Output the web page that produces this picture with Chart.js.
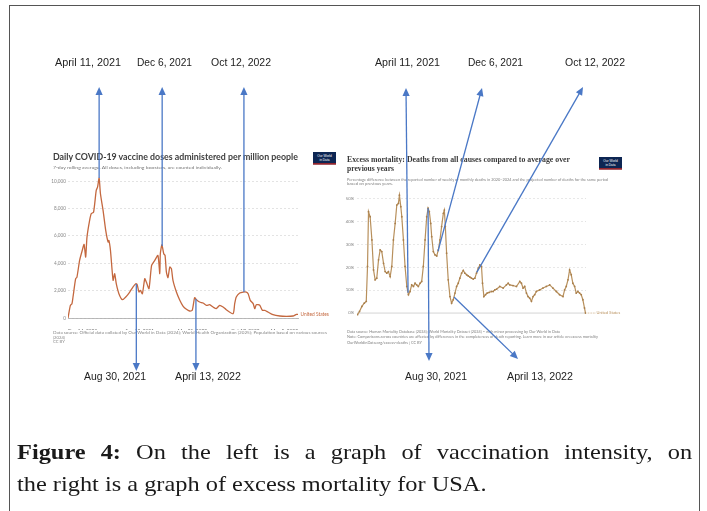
<!DOCTYPE html>
<html><head><meta charset="utf-8">
<script src="https://cdn.jsdelivr.net/npm/chart.js@4.4.1/dist/chart.umd.min.js"></script>
<style>
html,body{margin:0;padding:0;background:#fff;}
body{width:707px;height:511px;position:relative;overflow:hidden;font-family:"Liberation Sans",Arial,sans-serif;}
#frame{position:absolute;left:9px;top:5px;width:691px;height:540px;border:1px solid #555;box-sizing:border-box;}
canvas{position:absolute;}
#cL{left:40px;top:171px;}
#cR{left:338px;top:186px;}
#ov{position:absolute;left:0;top:0;pointer-events:none;}
.cap{position:absolute;left:17px;font-family:"Liberation Serif","Times New Roman",serif;font-size:21px;line-height:24px;color:#1a1a1a;white-space:nowrap;transform-origin:0 0;transform:scaleX(1.16);}
</style></head>
<body>
<div id="frame"></div>
<canvas id="cL" width="292" height="159"></canvas>
<canvas id="cR" width="285" height="141"></canvas>
<svg id="ov" width="707" height="511" xmlns="http://www.w3.org/2000/svg">
  <g font-family="Liberation Sans, Arial, sans-serif" font-size="10.5" fill="#222">
    <text x="55" y="66" textLength="66" lengthAdjust="spacingAndGlyphs">April 11, 2021</text>
    <text x="137" y="66" textLength="55" lengthAdjust="spacingAndGlyphs">Dec 6, 2021</text>
    <text x="211" y="66" textLength="60" lengthAdjust="spacingAndGlyphs">Oct 12, 2022</text>
    <text x="375" y="66" textLength="65" lengthAdjust="spacingAndGlyphs">April 11, 2021</text>
    <text x="468" y="66" textLength="55" lengthAdjust="spacingAndGlyphs">Dec 6, 2021</text>
    <text x="565" y="66" textLength="60" lengthAdjust="spacingAndGlyphs">Oct 12, 2022</text>
    <text x="84" y="380" textLength="62" lengthAdjust="spacingAndGlyphs">Aug 30, 2021</text>
    <text x="175" y="380" textLength="66" lengthAdjust="spacingAndGlyphs">April 13, 2022</text>
    <text x="405" y="380" textLength="62" lengthAdjust="spacingAndGlyphs">Aug 30, 2021</text>
    <text x="507" y="380" textLength="66" lengthAdjust="spacingAndGlyphs">April 13, 2022</text>
  </g>
  <text x="53" y="160" font-family="Lato, Liberation Sans, sans-serif" font-weight="bold" font-size="9.6" fill="#3d3d3d" textLength="245" lengthAdjust="spacingAndGlyphs">Daily COVID-19 vaccine doses administered per million people</text>
  <text x="53" y="168.5" font-family="Lato, Liberation Sans, sans-serif" font-size="4.6" fill="#777" textLength="169" lengthAdjust="spacingAndGlyphs">7-day rolling average. All doses, including boosters, are counted individually.</text>
  <g font-family="Lato, Liberation Sans, sans-serif" font-size="4.2" fill="#888">
    <text x="53" y="334" textLength="274" lengthAdjust="spacingAndGlyphs">Data source: Official data collated by Our World in Data (2024); World Health Organization (2025); Population based on various sources</text>
    <text x="53" y="338.6">(2024)</text>
    <text x="53" y="343.2">CC BY</text>
  </g>
  <g transform="translate(313,152)">
    <rect width="23" height="12.5" fill="#0d2653"/>
    <rect y="11.3" width="23" height="1.2" fill="#ce261e"/>
    <text x="11.5" y="5" font-size="3.2" fill="#fff" text-anchor="middle" font-family="Liberation Sans, sans-serif">Our World</text>
    <text x="11.5" y="8.8" font-size="3.2" fill="#fff" text-anchor="middle" font-family="Liberation Sans, sans-serif">in Data</text>
  </g>
  <g font-family="Liberation Serif, DejaVu Serif, serif" font-weight="bold" font-size="9" fill="#3a3a3a">
    <text x="347" y="162" textLength="223" lengthAdjust="spacingAndGlyphs">Excess mortality: Deaths from all causes compared to average over</text>
    <text x="347" y="171" textLength="47" lengthAdjust="spacingAndGlyphs">previous years</text>
  </g>
  <g font-family="Lato, Liberation Sans, sans-serif" font-size="3.9" fill="#808080">
    <text x="347" y="180.5" textLength="261" lengthAdjust="spacingAndGlyphs">Percentage difference between the reported number of weekly or monthly deaths in 2020–2024 and the projected number of deaths for the same period</text>
    <text x="347" y="185" textLength="46" lengthAdjust="spacingAndGlyphs">based on previous years.</text>
    <text x="347" y="333" textLength="213" lengthAdjust="spacingAndGlyphs">Data source: Human Mortality Database (2024); World Mortality Dataset (2024) – with minor processing by Our World in Data</text>
    <text x="347" y="338" textLength="251" lengthAdjust="spacingAndGlyphs">Note: Comparisons across countries are affected by differences in the completeness of death reporting. Learn more in our article on excess mortality</text>
    <text x="347" y="343.5" textLength="75" lengthAdjust="spacingAndGlyphs">OurWorldinData.org/excess-deaths | CC BY</text>
  </g>
  <g transform="translate(599,157)">
    <rect width="23" height="12.5" fill="#0d2653"/>
    <rect y="11.3" width="23" height="1.2" fill="#ce261e"/>
    <text x="11.5" y="5" font-size="3.2" fill="#fff" text-anchor="middle" font-family="Liberation Sans, sans-serif">Our World</text>
    <text x="11.5" y="8.8" font-size="3.2" fill="#fff" text-anchor="middle" font-family="Liberation Sans, sans-serif">in Data</text>
  </g>
  <g id="arrows"></g>
</svg>
<div class="cap" style="top:440px;width:582px;text-align:justify;text-align-last:justify;white-space:normal;"><b>Figure 4:</b> On the left is a graph of vaccination intensity, on</div>
<div class="cap" style="top:472px;">the right is a graph of excess mortality for USA.</div>

<script>
// ---------- Left chart: daily vaccine doses per million (USA) ----------
// x = days since Dec 14, 2020
const vaxDays = [0,9,15,19,29,34,44,54,61,67,72,82,88,97,107,112,118,123,133,143,152,155,161,171,177,183,193,206,219,234,246,257,262,269,274,282,291,297,307,317,329,341,348,350,356,363,368,373,379,386,392,398,411,423,436,449,461,471,480,487,499,512,525,537,550,562,575,588,600,626,632,638,651,664,676,683,691,702,708,714,727,737,746,758,777,803,828,853,866,872];
const vaxValues = [0,925,1046,1533,2871,2993,4209,4939,5377,4452,5912,7129,7615,7737,9318,9562,10219,9075,7859,6399,5547,5669,4939,2749,3236,2506,1776,1338,1533,1898,2263,2506,2457,1898,2019,1776,2871,2628,2141,3844,4209,4574,3236,4696,5353,4696,4574,3358,2944,3722,3601,2749,1898,1338,876,633,511,560,1484,1338,1168,1095,925,973,803,681,925,803,608,316,1046,1533,1825,1898,1898,1776,1290,1046,681,973,925,560,560,438,243,146,122,146,268,268];
const vaxTickDays = [0,272,472,672,872];
const vaxTickLabels = ['Dec 14, 2020','Sep 12, 2021','Mar 31, 2022','Oct 17, 2022','May 5, 2023'];
const vaxYTicks = [0,2000,4000,6000,8000,10000];
const vaxSeriesName = 'United States';

// ---------- Right chart: excess mortality P-score (USA) ----------
// x = days since Jan 1, 2020, y = % above expected
const emDays = [62,78,97,116,132,142,150,163,177,190,203,216,230,243,256,270,283,296,309,323,336,349,363,376,389,397,408,416,429,442,456,469,482,495,509,522,535,548,562,575,588,602,615,626,636,647,655,668,681,695,708,721,734,748,756,764,774,787,801,814,827,841,854,867,880,894,907,920,934,947,960,973,987,1000,1013,1027,1040,1053,1061,1072,1085,1098,1114,1133,1146,1159,1173,1199,1226,1252,1266,1279,1305,1332,1359,1372,1385,1398,1412,1425,1438,1452,1465,1478,1491,1518,1544,1571,1598,1624,1651,1677,1704,1717,1730,1744,1757,1770,1783,1797,1810,1823,1837,1850,1863,1876,1884];
const emValues = [-0.7,0.7,2.9,4.3,5.1,20.3,44.2,42.0,31.9,18.8,14.5,15.2,23.2,27.5,26.8,21.7,18.1,17.4,18.1,15.9,20.3,31.9,39.1,47.1,47.8,51.4,46.4,42.0,31.9,20.3,11.6,8.0,9.4,12.3,11.6,13.0,12.3,11.6,13.0,13.8,20.3,31.9,42.0,45.7,44.2,39.1,33.3,26.8,25.4,24.9,27.5,31.9,37.7,43.5,44.9,37.7,26.1,14.5,7.2,4.3,5.8,8.7,11.6,13.0,15.2,17.4,18.6,17.4,16.7,16.2,15.7,15.2,14.8,15.2,17.4,19.6,21.0,20.3,13.0,7.2,8.0,8.7,9.0,9.4,9.4,10.1,10.4,11.6,10.9,12.3,13.0,12.3,12.0,11.6,13.8,13.0,10.9,11.6,8.7,7.2,6.5,5.1,7.2,8.0,9.4,10.1,10.9,11.6,12.3,10.9,9.4,8.0,7.2,10.1,11.6,14.5,18.8,16.7,13.0,11.6,8.7,9.4,8.7,8.0,5.8,2.2,0];
const emTickDays = [58,535,986,1425,1888];
const emTickLabels = ['Feb 28, 2020','Jun 19, 2021','Sep 13, 2022','Nov 26, 2023','Mar 3, 2025'];
const emYTicks = [0,10,20,30,40,50];
const emSeriesName = 'United States';

// ---------- Annotations (dates) ----------
const vaxMarks = [
  {day:118, dir:'up'},   // April 11, 2021
  {day:357, dir:'up'},   // Dec 6, 2021
  {day:667, dir:'up'},   // Oct 12, 2022
  {day:259, dir:'down'}, // Aug 30, 2021
  {day:485, dir:'down'}  // April 13, 2022
];
const emMarks = [
  {day:466, tip:[406,88]},   // April 11, 2021
  {day:705, tip:[482,88]},   // Dec 6, 2021
  {day:1015, tip:[583,87]},  // Oct 12, 2022
  {day:626, tip:[429,361]},  // Aug 30, 2021
  {day:833, tip:[518,359]}   // April 13, 2022
];

const endLabel = {
  id:'endLabel',
  afterDatasetsDraw(chart, args, o){
    const meta = chart.getDatasetMeta(0);
    const pt = meta.data[meta.data.length-1];
    const ctx = chart.ctx;
    ctx.save();
    if (o.dots){
      ctx.setLineDash([0.8,0.8]); ctx.strokeStyle=o.color; ctx.lineWidth=0.7;
      ctx.beginPath(); ctx.moveTo(pt.x+1,pt.y); ctx.lineTo(pt.x+o.gap-1,pt.y); ctx.stroke();
    }
    ctx.font = o.font; ctx.fillStyle = o.color; ctx.textBaseline='middle';
    ctx.fillText(o.text, pt.x+o.gap, pt.y);
    ctx.restore();
  }
};
const zeroLine = {
  id:'zeroLine',
  beforeDatasetsDraw(chart, args, o){
    const y = chart.scales.y.getPixelForValue(0), a = chart.chartArea, ctx = chart.ctx;
    ctx.save(); ctx.strokeStyle=o.color; ctx.lineWidth=0.8;
    ctx.beginPath(); ctx.moveTo(a.left,y); ctx.lineTo(a.right,y); ctx.stroke(); ctx.restore();
  }
};

const chartL = new Chart(document.getElementById('cL'), {
  type:'line',
  data:{datasets:[{data:vaxDays.map((d,i)=>({x:d,y:vaxValues[i]})), borderColor:'#c4683f', borderWidth:1.3, pointRadius:0, tension:0.2}]},
  options:{
    responsive:false, animation:false,
    layout:{padding:{top:6,right:34,left:0,bottom:0}},
    plugins:{legend:{display:false},tooltip:{enabled:false},
      endLabel:{text:vaxSeriesName,color:'#c4683f',font:'4.8px Lato, Liberation Sans, sans-serif',gap:2.5,dots:false}},
    scales:{
      x:{type:'linear',min:0,max:872,
        afterBuildTicks:s=>{s.ticks=vaxTickDays.map(v=>({value:v}));},
        afterFit:s=>{s.height=12;},
        ticks:{callback:v=>vaxTickLabels[vaxTickDays.indexOf(v)],font:{size:4.9,family:'Lato'},color:'#6f6f6f',padding:2.5,align:'inner',maxRotation:0,autoSkip:false},
        grid:{display:false},
        border:{display:true,color:'#aaa',width:0.8}},
      y:{min:0,max:10300,
        afterBuildTicks:s=>{s.ticks=vaxYTicks.map(v=>({value:v}));},
        afterFit:s=>{s.width=28;},
        ticks:{font:{size:4.7,family:'Lato'},color:'#888',padding:2,callback:v=>v.toLocaleString('en-US')},
        grid:{color:'#dcdcdc',lineWidth:0.8,drawTicks:false},
        border:{display:false,dash:[2,2]}}
    }
  },
  plugins:[endLabel]
});

const chartR = new Chart(document.getElementById('cR'), {
  type:'line',
  data:{datasets:[{data:emDays.map((d,i)=>({x:d,y:emValues[i]})), borderColor:'#b8905c', borderWidth:1.2, pointRadius:0.9, pointBorderWidth:0, pointBackgroundColor:'#a97f4c', tension:0}]},
  options:{
    responsive:false, animation:false,
    layout:{padding:{top:5,right:37,left:0,bottom:0}},
    plugins:{legend:{display:false},tooltip:{enabled:false},
      endLabel:{text:emSeriesName,color:'#b8905c',font:'4px Lato, Liberation Sans, sans-serif',gap:11,dots:true},
      zeroLine:{color:'#c8c8c8'}},
    scales:{
      x:{type:'linear',min:58,max:1888,
        afterBuildTicks:s=>{s.ticks=emTickDays.map(v=>({value:v}));},
        afterFit:s=>{s.height=10.5;},
        ticks:{callback:v=>emTickLabels[emTickDays.indexOf(v)],font:{size:4.2,family:'Lato'},color:'#808080',padding:3,align:'inner',maxRotation:0,autoSkip:false},
        grid:{display:false},
        border:{display:false}},
      y:{min:-1.5,max:53,
        afterBuildTicks:s=>{s.ticks=emYTicks.map(v=>({value:v}));},
        afterFit:s=>{s.width=19;},
        ticks:{font:{size:4.2,family:'Lato'},color:'#808080',padding:3,callback:v=>v+'%'},
        grid:{color:ctx=>ctx.tick && ctx.tick.value===0 ? 'rgba(0,0,0,0)' : '#e2e2e2',lineWidth:0.8,drawTicks:false},
        border:{display:false,dash:[2,2]}}
    }
  },
  plugins:[endLabel, zeroLine]
});

function interp(days, vals, d){
  for (let i=1;i<days.length;i++){
    if (days[i]>=d){const t=(d-days[i-1])/(days[i]-days[i-1]); return vals[i-1]+t*(vals[i]-vals[i-1]);}
  }
  return vals[vals.length-1];
}
const NS='http://www.w3.org/2000/svg';
const g = document.getElementById('arrows');
function arrow(x1,y1,x2,y2,color,w){
  const dx=x2-x1, dy=y2-y1, L=Math.hypot(dx,dy), ux=dx/L, uy=dy/L, hl=8, hw=3.6;
  const bx=x2-ux*hl, by=y2-uy*hl;
  const ln=document.createElementNS(NS,'line');
  ln.setAttribute('x1',x1);ln.setAttribute('y1',y1);ln.setAttribute('x2',bx+ux*1);ln.setAttribute('y2',by+uy*1);
  ln.setAttribute('stroke',color);ln.setAttribute('stroke-width',w);
  g.appendChild(ln);
  const p=document.createElementNS(NS,'polygon');
  p.setAttribute('points',`${x2},${y2} ${bx-uy*hw},${by+ux*hw} ${bx+uy*hw},${by-ux*hw}`);
  p.setAttribute('fill',color);
  g.appendChild(p);
}
const offL={x:40,y:171}, offR={x:338,y:186};
vaxMarks.forEach(m=>{
  const x = chartL.scales.x.getPixelForValue(m.day)+offL.x;
  const y = chartL.scales.y.getPixelForValue(interp(vaxDays,vaxValues,m.day))+offL.y;
  if (m.dir==='up') arrow(x,y,x,87,'#4a78c6',1.3); else arrow(x,y,x,371,'#4a78c6',1.3);
});
emMarks.forEach(m=>{
  const x = chartR.scales.x.getPixelForValue(m.day)+offR.x;
  const y = chartR.scales.y.getPixelForValue(interp(emDays,emValues,m.day))+offR.y;
  arrow(x,y,m.tip[0],m.tip[1],'#4a78c6',1.3);
});
</script>
</body></html>
